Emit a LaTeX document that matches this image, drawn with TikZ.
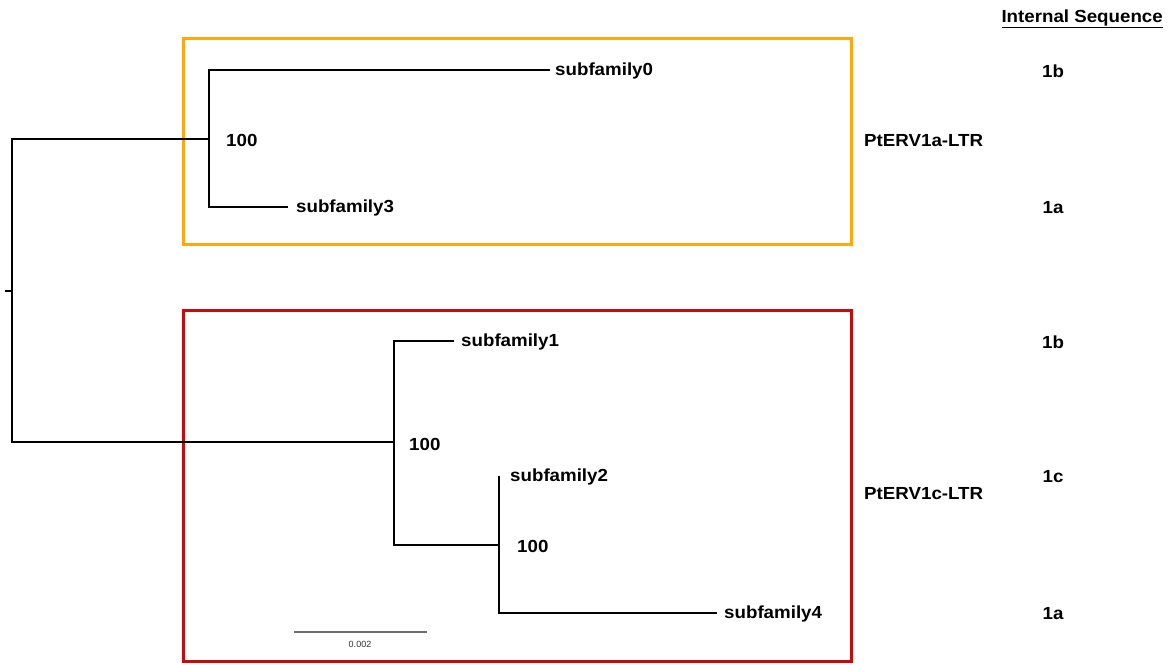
\documentclass[tikz,border=0pt]{standalone}
\usepackage{fontspec}
\setmainfont{Liberation Sans}[FakeStretch=1.07]
\newfontfamily\plainsans{Liberation Sans}
\begin{document}
\begin{tikzpicture}[x=1pt,y=-1pt,
  branch/.style={line width=2.8pt,black,line cap=rect},
  lbl/.style={font=\fontsize{17.5}{20}\selectfont\bfseries,inner sep=0pt},
  tiplbl/.style={lbl,anchor=west},
  boxo/.style={draw={rgb,255:red,255;green,168;blue,20},line width=3pt},
  boxr/.style={draw={rgb,255:red,200;green,10;blue,10},line width=3pt}]
\useasboundingbox (0,0) rectangle (1169,664);
% boxes
\draw[boxo] (183,38) rectangle (851,244);
\draw[boxr] (183,310) rectangle (851,661);
% coordinates
\coordinate (rt) at (6,291);
\coordinate (r) at (12,291);
\coordinate (rA) at (12,139);
\coordinate (rB) at (12,442);
\coordinate (a) at (209,139);
\coordinate (a0) at (209,70);
\coordinate (a3) at (209,207);
\coordinate (t0) at (549,70);
\coordinate (t3) at (287,207);
\coordinate (b) at (394,442);
\coordinate (b1) at (394,341);
\coordinate (b2) at (394,545);
\coordinate (t1) at (453,341);
\coordinate (c) at (499,545);
\coordinate (c2) at (499,477);
\coordinate (c4) at (499,613);
\coordinate (t4) at (716,613);
% tree
\draw[branch] (rt) -- (r);
\draw[branch] (rA) -- (rB);
\draw[branch] (rA) -- (a);
\draw[branch] (a0) -- (a3);
\draw[branch] (a0) -- (t0);
\draw[branch] (a3) -- (t3);
\draw[branch] (rB) -- (b);
\draw[branch] (b1) -- (b2);
\draw[branch] (b1) -- (t1);
\draw[branch] (b2) -- (c);
\draw[branch] (c2) -- (c4);
\draw[branch] (c4) -- (t4);
% tip labels
\node[tiplbl] (s0) at (555,71) {subfamily0};
\node[tiplbl] (s3) at (296,208) {subfamily3};
\node[tiplbl] (s1) at (461,342) {subfamily1};
\node[tiplbl] (s2) at (510,477) {subfamily2};
\node[tiplbl] (s4) at (724,614) {subfamily4};
% bootstrap
\node[tiplbl] (bs1) at (226,140) {100};
\node[tiplbl] (bs2) at (409,444) {100};
\node[tiplbl] (bs3) at (517,546) {100};
% clade labels
\node[tiplbl] (ca) at (864,141) {PtERV1a-LTR};
\node[tiplbl] (cc) at (864,494) {PtERV1c-LTR};
% internal sequence
\node[lbl,anchor=east] (hdr) at (1163,19) {\underline{Internal Sequence}};
\node[lbl] (i1) at (1053,71) {1b};
\node[lbl] (i2) at (1053,208) {1a};
\node[lbl] (i3) at (1053,342) {1b};
\node[lbl] (i4) at (1053,477) {1c};
\node[lbl] (i5) at (1053,614) {1a};
% scale bar
\coordinate (sbl) at (294,632);
\coordinate (sbr) at (427,632);
\draw[line width=1.3pt,gray!85!black] (sbl) -- (sbr);
\node[font=\plainsans\fontsize{9}{10}\selectfont,inner sep=0pt,text=black!80] (sbt) at (360,644) {0.002};
\end{tikzpicture}
\end{document}
